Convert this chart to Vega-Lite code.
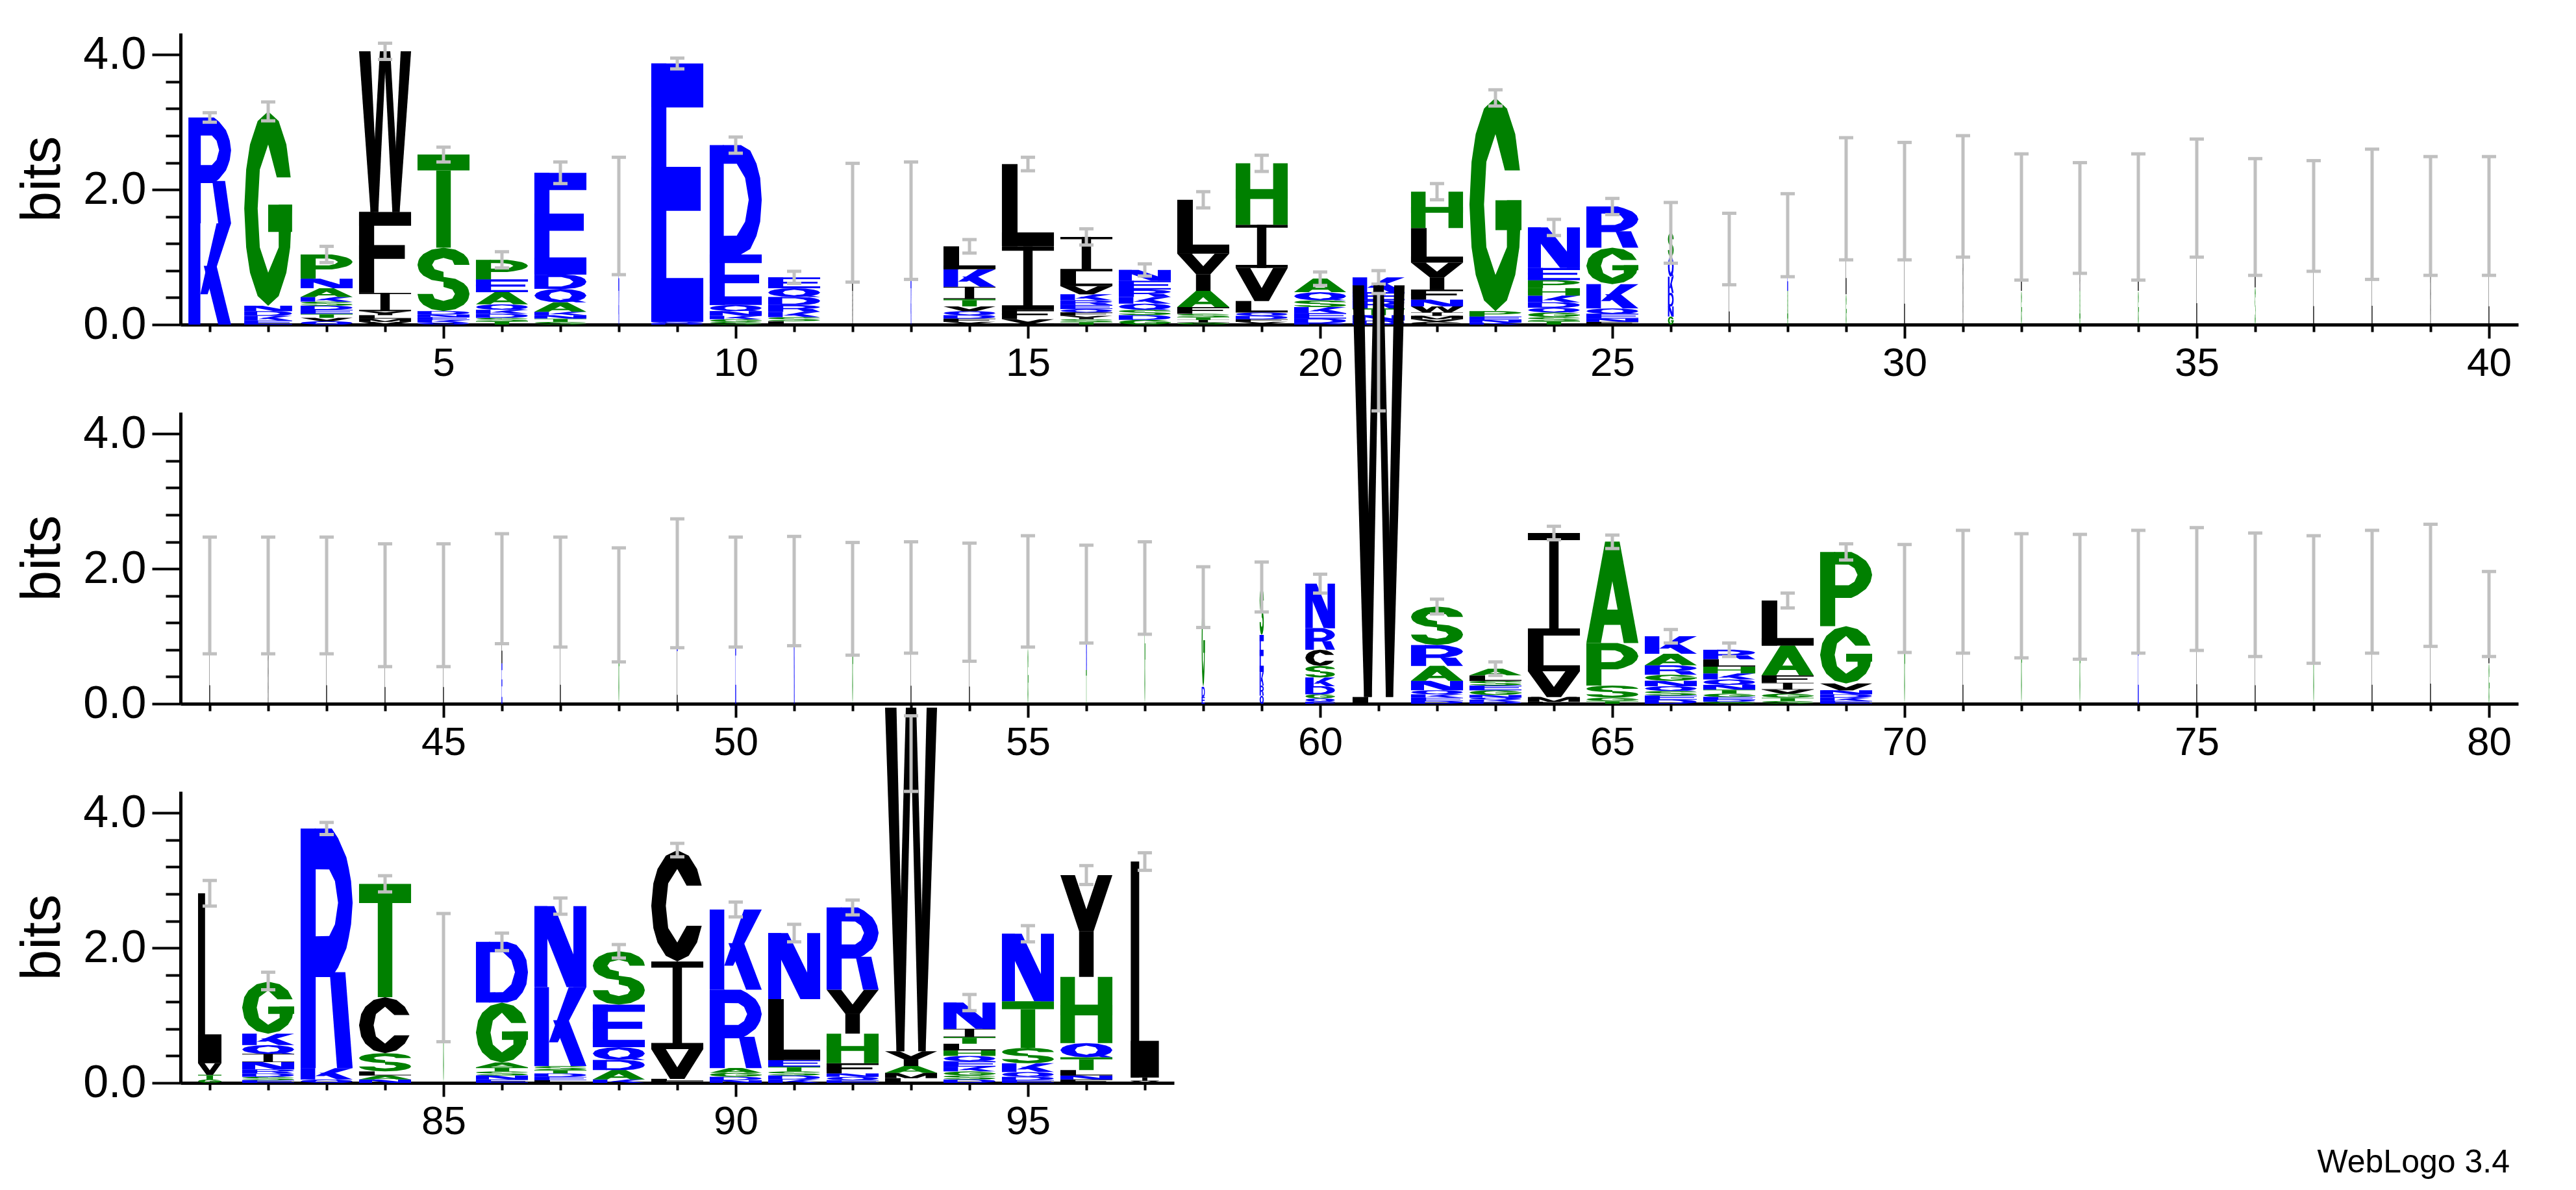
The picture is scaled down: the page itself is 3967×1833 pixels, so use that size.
{
  "$schema": "https://vega.github.io/schema/vega-lite/v6.json",
  "padding": {"left": 23, "top": 49, "right": 5, "bottom": 5},
  "background": "white",
  "config": {
    "view": {"stroke": null},
    "font": "Liberation Sans",
    "axis": {
      "domainColor": "#000000", "domainWidth": 5, "tickColor": "#000000", "tickWidth": 4,
      "labelColor": "#000000", "labelFont": "Liberation Sans", "grid": false,
      "labelOverlap": false, "labelFlush": false, "titleColor": "#000000", "titleFont": "Liberation Sans"
    }
  },
  "title": {"text": "WebLogo 3.4", "orient": "bottom", "anchor": "end", "fontSize": 50, "fontWeight": "normal", "font": "Liberation Sans", "color": "#000000", "offset": 8, "dx": -13},
  "datasets": {
    "cols": [
      {"pos":1,"lo":3.0,"hi":3.14},{"pos":2,"lo":3.02,"hi":3.3},{"pos":3,"lo":0.92,"hi":1.16},{"pos":4,"lo":3.93,"hi":4.17},
      {"pos":5,"lo":2.41,"hi":2.63},{"pos":6,"lo":0.84,"hi":1.08},{"pos":7,"lo":2.09,"hi":2.41},{"pos":8,"lo":0.74,"hi":2.48},
      {"pos":9,"lo":3.79,"hi":3.95},{"pos":10,"lo":2.54,"hi":2.78},{"pos":11,"lo":0.61,"hi":0.79},{"pos":12,"lo":0.63,"hi":2.39},
      {"pos":13,"lo":0.67,"hi":2.41},{"pos":14,"lo":1.06,"hi":1.26},{"pos":15,"lo":2.28,"hi":2.48},{"pos":16,"lo":1.18,"hi":1.42},
      {"pos":17,"lo":0.72,"hi":0.9},{"pos":18,"lo":1.73,"hi":1.97},{"pos":19,"lo":2.27,"hi":2.51},{"pos":20,"lo":0.58,"hi":0.78},
      {"pos":21,"lo":0.6,"hi":0.8},{"pos":22,"lo":1.85,"hi":2.09},{"pos":23,"lo":3.24,"hi":3.48},{"pos":24,"lo":1.32,"hi":1.56},
      {"pos":25,"lo":1.63,"hi":1.87},{"pos":26,"lo":0.91,"hi":1.81},{"pos":27,"lo":0.59,"hi":1.65},{"pos":28,"lo":0.71,"hi":1.94},
      {"pos":29,"lo":0.96,"hi":2.77},{"pos":30,"lo":0.96,"hi":2.7},{"pos":31,"lo":1.0,"hi":2.8},{"pos":32,"lo":0.66,"hi":2.53},
      {"pos":33,"lo":0.76,"hi":2.4},{"pos":34,"lo":0.66,"hi":2.53},{"pos":35,"lo":1.0,"hi":2.75},{"pos":36,"lo":0.73,"hi":2.46},
      {"pos":37,"lo":0.79,"hi":2.43},{"pos":38,"lo":0.67,"hi":2.6},{"pos":39,"lo":0.73,"hi":2.49},{"pos":40,"lo":0.73,"hi":2.49},
      {"pos":41,"lo":0.74,"hi":2.47},{"pos":42,"lo":0.74,"hi":2.47},{"pos":43,"lo":0.74,"hi":2.47},{"pos":44,"lo":0.55,"hi":2.37},
      {"pos":45,"lo":0.55,"hi":2.37},{"pos":46,"lo":0.89,"hi":2.52},{"pos":47,"lo":0.84,"hi":2.47},{"pos":48,"lo":0.62,"hi":2.31},
      {"pos":49,"lo":0.83,"hi":2.74},{"pos":50,"lo":0.84,"hi":2.47},{"pos":51,"lo":0.86,"hi":2.48},{"pos":52,"lo":0.72,"hi":2.39},
      {"pos":53,"lo":0.75,"hi":2.4},{"pos":54,"lo":0.63,"hi":2.38},{"pos":55,"lo":0.84,"hi":2.49},{"pos":56,"lo":0.9,"hi":2.35},
      {"pos":57,"lo":1.03,"hi":2.4},{"pos":58,"lo":1.13,"hi":2.03},{"pos":59,"lo":1.36,"hi":2.1},{"pos":60,"lo":1.64,"hi":1.92},
      {"pos":61,"lo":4.34,"hi":6.08},{"pos":62,"lo":1.33,"hi":1.55},{"pos":63,"lo":0.42,"hi":0.62},{"pos":64,"lo":2.43,"hi":2.63},
      {"pos":65,"lo":2.3,"hi":2.5},{"pos":66,"lo":0.9,"hi":1.1},{"pos":67,"lo":0.7,"hi":0.9},{"pos":68,"lo":1.42,"hi":1.64},
      {"pos":69,"lo":2.13,"hi":2.37},{"pos":70,"lo":0.76,"hi":2.36},{"pos":71,"lo":0.75,"hi":2.57},{"pos":72,"lo":0.68,"hi":2.52},
      {"pos":73,"lo":0.66,"hi":2.51},{"pos":74,"lo":0.75,"hi":2.57},{"pos":75,"lo":0.79,"hi":2.61},{"pos":76,"lo":0.7,"hi":2.53},
      {"pos":77,"lo":0.6,"hi":2.49},{"pos":78,"lo":0.75,"hi":2.57},{"pos":79,"lo":0.85,"hi":2.66},{"pos":80,"lo":0.7,"hi":1.96},
      {"pos":81,"lo":2.62,"hi":3.0},{"pos":82,"lo":1.38,"hi":1.64},{"pos":83,"lo":3.68,"hi":3.86},{"pos":84,"lo":2.83,"hi":3.07},
      {"pos":85,"lo":0.61,"hi":2.51},{"pos":86,"lo":1.96,"hi":2.22},{"pos":87,"lo":2.5,"hi":2.74},{"pos":88,"lo":1.85,"hi":2.05},
      {"pos":89,"lo":3.35,"hi":3.55},{"pos":90,"lo":2.46,"hi":2.68},{"pos":91,"lo":2.09,"hi":2.35},{"pos":92,"lo":2.49,"hi":2.71},
      {"pos":93,"lo":4.32,"hi":5.44},{"pos":94,"lo":1.07,"hi":1.31},{"pos":95,"lo":2.09,"hi":2.33},{"pos":96,"lo":2.94,"hi":3.22},
      {"pos":97,"lo":3.15,"hi":3.41}
    ],
    "letters": [
      {"pos":1,"ch":"K","b":1.5},{"pos":1,"ch":"R","b":1.57},
      {"pos":2,"ch":"E","b":0.06},{"pos":2,"ch":"K","b":0.07},{"pos":2,"ch":"D","b":0.07},{"pos":2,"ch":"N","b":0.08},{"pos":2,"ch":"G","b":2.88},
      {"pos":3,"ch":"Q","b":0.05},{"pos":3,"ch":"V","b":0.05},{"pos":3,"ch":"T","b":0.06},{"pos":3,"ch":"E","b":0.06},{"pos":3,"ch":"D","b":0.06},{"pos":3,"ch":"S","b":0.06},{"pos":3,"ch":"K","b":0.07},{"pos":3,"ch":"A","b":0.13},{"pos":3,"ch":"N","b":0.14},{"pos":3,"ch":"P","b":0.36},
      {"pos":4,"ch":"V","b":0.04},{"pos":4,"ch":"M","b":0.05},{"pos":4,"ch":"L","b":0.05},{"pos":4,"ch":"Y","b":0.06},{"pos":4,"ch":"I","b":0.27},{"pos":4,"ch":"F","b":1.2},{"pos":4,"ch":"W","b":2.38},
      {"pos":5,"ch":"Q","b":0.03},{"pos":5,"ch":"K","b":0.04},{"pos":5,"ch":"E","b":0.04},{"pos":5,"ch":"N","b":0.04},{"pos":5,"ch":"D","b":0.05},{"pos":5,"ch":"S","b":0.94},{"pos":5,"ch":"T","b":1.38},
      {"pos":6,"ch":"T","b":0.05},{"pos":6,"ch":"S","b":0.05},{"pos":6,"ch":"D","b":0.06},{"pos":6,"ch":"K","b":0.06},{"pos":6,"ch":"Q","b":0.08},{"pos":6,"ch":"A","b":0.18},{"pos":6,"ch":"E","b":0.19},{"pos":6,"ch":"P","b":0.29},
      {"pos":7,"ch":"S","b":0.04},{"pos":7,"ch":"T","b":0.05},{"pos":7,"ch":"N","b":0.05},{"pos":7,"ch":"K","b":0.05},{"pos":7,"ch":"A","b":0.14},{"pos":7,"ch":"Q","b":0.2},{"pos":7,"ch":"D","b":0.21},{"pos":7,"ch":"E","b":1.51},
      {"pos":8,"ch":"K","b":0.5},{"pos":8,"ch":"E","b":1.1},
      {"pos":9,"ch":"D","b":0.02},{"pos":9,"ch":"Q","b":0.02},{"pos":9,"ch":"E","b":3.83},
      {"pos":10,"ch":"S","b":0.04},{"pos":10,"ch":"G","b":0.04},{"pos":10,"ch":"K","b":0.05},{"pos":10,"ch":"N","b":0.07},{"pos":10,"ch":"Q","b":0.09},{"pos":10,"ch":"E","b":0.75},{"pos":10,"ch":"D","b":1.62},
      {"pos":11,"ch":"L","b":0.05},{"pos":11,"ch":"S","b":0.06},{"pos":11,"ch":"K","b":0.08},{"pos":11,"ch":"R","b":0.1},{"pos":11,"ch":"D","b":0.12},{"pos":11,"ch":"Q","b":0.13},{"pos":11,"ch":"E","b":0.16},
      {"pos":12,"ch":"V","b":0.5},{"pos":12,"ch":"L","b":1.04},
      {"pos":13,"ch":"K","b":0.54},{"pos":13,"ch":"E","b":1.0},
      {"pos":14,"ch":"Y","b":0.04},{"pos":14,"ch":"F","b":0.05},{"pos":14,"ch":"D","b":0.05},{"pos":14,"ch":"Q","b":0.06},{"pos":14,"ch":"V","b":0.07},{"pos":14,"ch":"T","b":0.11},{"pos":14,"ch":"I","b":0.18},{"pos":14,"ch":"K","b":0.26},{"pos":14,"ch":"L","b":0.34},
      {"pos":15,"ch":"M","b":0.02},{"pos":15,"ch":"V","b":0.06},{"pos":15,"ch":"F","b":0.14},{"pos":15,"ch":"I","b":0.94},{"pos":15,"ch":"L","b":1.22},
      {"pos":16,"ch":"T","b":0.04},{"pos":16,"ch":"S","b":0.04},{"pos":16,"ch":"Y","b":0.05},{"pos":16,"ch":"F","b":0.05},{"pos":16,"ch":"Q","b":0.05},{"pos":16,"ch":"E","b":0.06},{"pos":16,"ch":"R","b":0.07},{"pos":16,"ch":"K","b":0.09},{"pos":16,"ch":"V","b":0.12},{"pos":16,"ch":"L","b":0.22},{"pos":16,"ch":"I","b":0.51},
      {"pos":17,"ch":"G","b":0.07},{"pos":17,"ch":"D","b":0.07},{"pos":17,"ch":"S","b":0.08},{"pos":17,"ch":"Q","b":0.09},{"pos":17,"ch":"K","b":0.1},{"pos":17,"ch":"R","b":0.11},{"pos":17,"ch":"E","b":0.13},{"pos":17,"ch":"N","b":0.16},
      {"pos":18,"ch":"G","b":0.03},{"pos":18,"ch":"I","b":0.04},{"pos":18,"ch":"T","b":0.04},{"pos":18,"ch":"S","b":0.05},{"pos":18,"ch":"F","b":0.1},{"pos":18,"ch":"A","b":0.24},{"pos":18,"ch":"Y","b":0.55},{"pos":18,"ch":"L","b":0.8},
      {"pos":19,"ch":"Y","b":0.04},{"pos":19,"ch":"F","b":0.04},{"pos":19,"ch":"D","b":0.05},{"pos":19,"ch":"Q","b":0.05},{"pos":19,"ch":"L","b":0.17},{"pos":19,"ch":"V","b":0.49},{"pos":19,"ch":"I","b":0.64},{"pos":19,"ch":"H","b":0.91},
      {"pos":20,"ch":"R","b":0.02},{"pos":20,"ch":"D","b":0.07},{"pos":20,"ch":"E","b":0.08},{"pos":20,"ch":"K","b":0.09},{"pos":20,"ch":"S","b":0.1},{"pos":20,"ch":"Q","b":0.12},{"pos":20,"ch":"A","b":0.2},
      {"pos":21,"ch":"D","b":0.06},{"pos":21,"ch":"N","b":0.08},{"pos":21,"ch":"T","b":0.1},{"pos":21,"ch":"R","b":0.12},{"pos":21,"ch":"E","b":0.12},{"pos":21,"ch":"K","b":0.22},
      {"pos":22,"ch":"C","b":0.04},{"pos":22,"ch":"V","b":0.04},{"pos":22,"ch":"M","b":0.05},{"pos":22,"ch":"I","b":0.05},{"pos":22,"ch":"W","b":0.09},{"pos":22,"ch":"N","b":0.1},{"pos":22,"ch":"F","b":0.15},{"pos":22,"ch":"Y","b":0.4},{"pos":22,"ch":"L","b":0.51},{"pos":22,"ch":"H","b":0.54},
      {"pos":23,"ch":"K","b":0.03},{"pos":23,"ch":"N","b":0.04},{"pos":23,"ch":"E","b":0.05},{"pos":23,"ch":"P","b":0.08},{"pos":23,"ch":"G","b":3.16},
      {"pos":24,"ch":"T","b":0.05},{"pos":24,"ch":"S","b":0.06},{"pos":24,"ch":"G","b":0.07},{"pos":24,"ch":"Q","b":0.07},{"pos":24,"ch":"D","b":0.08},{"pos":24,"ch":"K","b":0.1},{"pos":24,"ch":"H","b":0.11},{"pos":24,"ch":"P","b":0.12},{"pos":24,"ch":"E","b":0.18},{"pos":24,"ch":"N","b":0.6},
      {"pos":25,"ch":"F","b":0.04},{"pos":25,"ch":"N","b":0.05},{"pos":25,"ch":"E","b":0.07},{"pos":25,"ch":"Q","b":0.08},{"pos":25,"ch":"K","b":0.36},{"pos":25,"ch":"G","b":0.54},{"pos":25,"ch":"R","b":0.61},
      {"pos":26,"ch":"G","b":0.12},{"pos":26,"ch":"N","b":0.15},{"pos":26,"ch":"D","b":0.2},{"pos":26,"ch":"K","b":0.24},{"pos":26,"ch":"Q","b":0.3},{"pos":26,"ch":"S","b":0.35},
      {"pos":27,"ch":"L","b":1.15},
      {"pos":28,"ch":"A","b":0.5},{"pos":28,"ch":"E","b":0.83},
      {"pos":29,"ch":"G","b":0.45},{"pos":29,"ch":"L","b":1.42},
      {"pos":30,"ch":"L","b":1.83},
      {"pos":31,"ch":"V","b":1.91},
      {"pos":32,"ch":"G","b":0.5},{"pos":32,"ch":"L","b":1.09},
      {"pos":33,"ch":"A","b":0.5},{"pos":33,"ch":"V","b":1.08},
      {"pos":34,"ch":"G","b":0.5},{"pos":34,"ch":"L","b":1.09},
      {"pos":35,"ch":"L","b":1.87},
      {"pos":36,"ch":"S","b":0.55},{"pos":36,"ch":"L","b":1.04},
      {"pos":37,"ch":"L","b":1.61},
      {"pos":38,"ch":"L","b":1.64},
      {"pos":39,"ch":"V","b":1.6},
      {"pos":40,"ch":"L","b":1.6},
      {"pos":41,"ch":"L","b":1.61},
      {"pos":42,"ch":"V","b":1.61},
      {"pos":43,"ch":"L","b":1.61},
      {"pos":44,"ch":"L","b":1.46},
      {"pos":45,"ch":"L","b":1.46},
      {"pos":46,"ch":"E","b":0.6},{"pos":46,"ch":"L","b":1.1},
      {"pos":47,"ch":"L","b":1.66},
      {"pos":48,"ch":"G","b":1.46},
      {"pos":49,"ch":"L","b":0.78},{"pos":49,"ch":"E","b":1.0},
      {"pos":50,"ch":"E","b":1.66},
      {"pos":51,"ch":"N","b":1.67},
      {"pos":52,"ch":"G","b":1.55},
      {"pos":53,"ch":"L","b":1.57},
      {"pos":54,"ch":"L","b":1.5},
      {"pos":55,"ch":"G","b":0.82},{"pos":55,"ch":"K","b":0.85},
      {"pos":56,"ch":"T","b":0.5},{"pos":56,"ch":"N","b":1.12},
      {"pos":57,"ch":"G","b":1.72},
      {"pos":58,"ch":"E","b":0.1},{"pos":58,"ch":"D","b":0.15},{"pos":58,"ch":"G","b":1.33},
      {"pos":59,"ch":"Q","b":0.12},{"pos":59,"ch":"R","b":0.15},{"pos":59,"ch":"K","b":0.2},{"pos":59,"ch":"E","b":0.55},{"pos":59,"ch":"S","b":0.7},
      {"pos":60,"ch":"E","b":0.03},{"pos":60,"ch":"Q","b":0.05},{"pos":60,"ch":"G","b":0.06},{"pos":60,"ch":"D","b":0.12},{"pos":60,"ch":"K","b":0.13},{"pos":60,"ch":"S","b":0.17},{"pos":60,"ch":"C","b":0.24},{"pos":60,"ch":"R","b":0.32},{"pos":60,"ch":"N","b":0.66},
      {"pos":61,"ch":"L","b":0.1},{"pos":61,"ch":"W","b":6.1},
      {"pos":62,"ch":"D","b":0.04},{"pos":62,"ch":"E","b":0.05},{"pos":62,"ch":"K","b":0.05},{"pos":62,"ch":"Q","b":0.06},{"pos":62,"ch":"N","b":0.14},{"pos":62,"ch":"A","b":0.22},{"pos":62,"ch":"R","b":0.31},{"pos":62,"ch":"S","b":0.57},
      {"pos":63,"ch":"D","b":0.03},{"pos":63,"ch":"K","b":0.03},{"pos":63,"ch":"Q","b":0.03},{"pos":63,"ch":"N","b":0.04},{"pos":63,"ch":"G","b":0.07},{"pos":63,"ch":"E","b":0.07},{"pos":63,"ch":"S","b":0.07},{"pos":63,"ch":"L","b":0.08},{"pos":63,"ch":"A","b":0.1},
      {"pos":64,"ch":"F","b":0.03},{"pos":64,"ch":"M","b":0.07},{"pos":64,"ch":"V","b":0.38},{"pos":64,"ch":"L","b":0.53},{"pos":64,"ch":"I","b":1.52},
      {"pos":65,"ch":"T","b":0.04},{"pos":65,"ch":"G","b":0.05},{"pos":65,"ch":"S","b":0.18},{"pos":65,"ch":"P","b":0.63},{"pos":65,"ch":"A","b":1.5},
      {"pos":66,"ch":"D","b":0.06},{"pos":66,"ch":"E","b":0.06},{"pos":66,"ch":"S","b":0.07},{"pos":66,"ch":"Q","b":0.07},{"pos":66,"ch":"N","b":0.08},{"pos":66,"ch":"G","b":0.09},{"pos":66,"ch":"R","b":0.14},{"pos":66,"ch":"A","b":0.17},{"pos":66,"ch":"K","b":0.26},
      {"pos":67,"ch":"S","b":0.03},{"pos":67,"ch":"D","b":0.03},{"pos":67,"ch":"E","b":0.04},{"pos":67,"ch":"G","b":0.05},{"pos":67,"ch":"T","b":0.06},{"pos":67,"ch":"N","b":0.07},{"pos":67,"ch":"Q","b":0.08},{"pos":67,"ch":"K","b":0.09},{"pos":67,"ch":"H","b":0.1},{"pos":67,"ch":"L","b":0.11},{"pos":67,"ch":"R","b":0.14},
      {"pos":68,"ch":"S","b":0.04},{"pos":68,"ch":"T","b":0.05},{"pos":68,"ch":"G","b":0.06},{"pos":68,"ch":"V","b":0.06},{"pos":68,"ch":"I","b":0.1},{"pos":68,"ch":"F","b":0.11},{"pos":68,"ch":"A","b":0.44},{"pos":68,"ch":"L","b":0.67},
      {"pos":69,"ch":"E","b":0.04},{"pos":69,"ch":"K","b":0.05},{"pos":69,"ch":"D","b":0.05},{"pos":69,"ch":"N","b":0.06},{"pos":69,"ch":"V","b":0.1},{"pos":69,"ch":"G","b":0.85},{"pos":69,"ch":"P","b":1.1},
      {"pos":70,"ch":"G","b":1.56},
      {"pos":71,"ch":"L","b":1.66},
      {"pos":72,"ch":"G","b":1.6},
      {"pos":73,"ch":"G","b":1.58},
      {"pos":74,"ch":"E","b":1.66},
      {"pos":75,"ch":"L","b":1.7},
      {"pos":76,"ch":"L","b":1.61},
      {"pos":77,"ch":"G","b":1.54},
      {"pos":78,"ch":"L","b":1.66},
      {"pos":79,"ch":"L","b":1.76},
      {"pos":80,"ch":"G","b":0.6},{"pos":80,"ch":"L","b":0.73},
      {"pos":81,"ch":"G","b":0.05},{"pos":81,"ch":"T","b":0.07},{"pos":81,"ch":"V","b":0.17},{"pos":81,"ch":"L","b":2.52},
      {"pos":82,"ch":"E","b":0.04},{"pos":82,"ch":"S","b":0.05},{"pos":82,"ch":"D","b":0.05},{"pos":82,"ch":"R","b":0.06},{"pos":82,"ch":"N","b":0.11},{"pos":82,"ch":"I","b":0.12},{"pos":82,"ch":"Q","b":0.13},{"pos":82,"ch":"K","b":0.17},{"pos":82,"ch":"G","b":0.77},
      {"pos":83,"ch":"Q","b":0.05},{"pos":83,"ch":"K","b":0.17},{"pos":83,"ch":"R","b":3.55},
      {"pos":84,"ch":"N","b":0.05},{"pos":84,"ch":"A","b":0.06},{"pos":84,"ch":"L","b":0.06},{"pos":84,"ch":"S","b":0.27},{"pos":84,"ch":"C","b":0.83},{"pos":84,"ch":"T","b":1.68},
      {"pos":85,"ch":"G","b":1.56},
      {"pos":86,"ch":"E","b":0.05},{"pos":86,"ch":"N","b":0.06},{"pos":86,"ch":"S","b":0.06},{"pos":86,"ch":"T","b":0.06},{"pos":86,"ch":"A","b":0.07},{"pos":86,"ch":"G","b":0.89},{"pos":86,"ch":"D","b":0.9},
      {"pos":87,"ch":"L","b":0.04},{"pos":87,"ch":"E","b":0.05},{"pos":87,"ch":"D","b":0.05},{"pos":87,"ch":"T","b":0.05},{"pos":87,"ch":"S","b":0.06},{"pos":87,"ch":"K","b":1.17},{"pos":87,"ch":"N","b":1.2},
      {"pos":88,"ch":"K","b":0.05},{"pos":88,"ch":"A","b":0.14},{"pos":88,"ch":"D","b":0.15},{"pos":88,"ch":"Q","b":0.19},{"pos":88,"ch":"E","b":0.63},{"pos":88,"ch":"S","b":0.79},
      {"pos":89,"ch":"F","b":0.03},{"pos":89,"ch":"L","b":0.03},{"pos":89,"ch":"V","b":0.44},{"pos":89,"ch":"I","b":1.3},{"pos":89,"ch":"C","b":1.65},
      {"pos":90,"ch":"N","b":0.04},{"pos":90,"ch":"D","b":0.05},{"pos":90,"ch":"G","b":0.06},{"pos":90,"ch":"A","b":0.07},{"pos":90,"ch":"R","b":1.16},{"pos":90,"ch":"K","b":1.19},
      {"pos":91,"ch":"K","b":0.05},{"pos":91,"ch":"D","b":0.06},{"pos":91,"ch":"S","b":0.06},{"pos":91,"ch":"T","b":0.07},{"pos":91,"ch":"E","b":0.1},{"pos":91,"ch":"L","b":0.9},{"pos":91,"ch":"N","b":0.98},
      {"pos":92,"ch":"E","b":0.04},{"pos":92,"ch":"Q","b":0.05},{"pos":92,"ch":"N","b":0.05},{"pos":92,"ch":"F","b":0.15},{"pos":92,"ch":"H","b":0.44},{"pos":92,"ch":"Y","b":0.65},{"pos":92,"ch":"R","b":1.22},
      {"pos":93,"ch":"L","b":0.07},{"pos":93,"ch":"M","b":0.08},{"pos":93,"ch":"A","b":0.1},{"pos":93,"ch":"Y","b":0.22},{"pos":93,"ch":"W","b":5.09},
      {"pos":94,"ch":"D","b":0.05},{"pos":94,"ch":"S","b":0.06},{"pos":94,"ch":"G","b":0.06},{"pos":94,"ch":"K","b":0.07},{"pos":94,"ch":"E","b":0.08},{"pos":94,"ch":"Q","b":0.08},{"pos":94,"ch":"H","b":0.08},{"pos":94,"ch":"L","b":0.1},{"pos":94,"ch":"T","b":0.1},{"pos":94,"ch":"I","b":0.12},{"pos":94,"ch":"N","b":0.39},
      {"pos":95,"ch":"E","b":0.04},{"pos":95,"ch":"D","b":0.05},{"pos":95,"ch":"Q","b":0.07},{"pos":95,"ch":"K","b":0.13},{"pos":95,"ch":"S","b":0.23},{"pos":95,"ch":"T","b":0.69},{"pos":95,"ch":"N","b":1.0},
      {"pos":96,"ch":"F","b":0.05},{"pos":96,"ch":"N","b":0.06},{"pos":96,"ch":"L","b":0.08},{"pos":96,"ch":"T","b":0.19},{"pos":96,"ch":"Q","b":0.21},{"pos":96,"ch":"H","b":0.98},{"pos":96,"ch":"Y","b":1.51},
      {"pos":97,"ch":"V","b":0.03},{"pos":97,"ch":"I","b":0.05},{"pos":97,"ch":"L","b":3.2}
    ]
  },
  "data": {"name": "letters"},
  "transform": [
    {"lookup": "pos", "from": {"data": {"values": [
      {"pos":1,"w":0.82},{"pos":2,"w":0.92},{"pos":8,"w":0.015},{"pos":12,"w":0.015},{"pos":13,"w":0.015},{"pos":26,"w":0.11},
      {"pos":27,"w":0.015},{"pos":28,"w":0.015},{"pos":29,"w":0.015},{"pos":30,"w":0.015},{"pos":31,"w":0.015},{"pos":32,"w":0.015},
      {"pos":33,"w":0.015},{"pos":34,"w":0.015},{"pos":35,"w":0.015},{"pos":36,"w":0.015},{"pos":37,"w":0.015},{"pos":38,"w":0.015},
      {"pos":39,"w":0.015},{"pos":40,"w":0.015},{"pos":41,"w":0.015},{"pos":42,"w":0.015},{"pos":43,"w":0.015},{"pos":44,"w":0.015},
      {"pos":45,"w":0.015},{"pos":46,"w":0.015},{"pos":47,"w":0.015},{"pos":48,"w":0.015},{"pos":49,"w":0.015},{"pos":50,"w":0.015},
      {"pos":51,"w":0.015},{"pos":52,"w":0.015},{"pos":53,"w":0.015},{"pos":54,"w":0.015},{"pos":55,"w":0.015},{"pos":56,"w":0.015},
      {"pos":57,"w":0.015},{"pos":58,"w":0.06},{"pos":59,"w":0.08},{"pos":60,"w":0.57},{"pos":70,"w":0.015},{"pos":71,"w":0.015},
      {"pos":72,"w":0.015},{"pos":73,"w":0.015},{"pos":74,"w":0.015},{"pos":75,"w":0.015},{"pos":76,"w":0.015},{"pos":77,"w":0.015},
      {"pos":78,"w":0.015},{"pos":79,"w":0.015},{"pos":80,"w":0.015},{"pos":81,"w":0.45},{"pos":85,"w":0.015},{"pos":97,"w":0.54}
    ]}, "key": "pos", "fields": ["w"]}, "default": 1},
    {"stack": "b", "groupby": ["pos"], "sort": [{"field": "b", "order": "ascending"}], "as": ["y0", "y1"]},
    {"lookup": "ch", "from": {"data": {"values": [
      {"ch":"A","p":[1,1,2,2,3,3],"v":[0,1,0,1,0.18,0.33],"lo":[0,0.36,0.72,0.36,0.12,0.16],"hi":[0.28,0.64,1,0.64,0.88,0.84]},
      {"ch":"C","p":[1,1,1,1,1,1,1,1,1,2,2,2,2,3,3,3,3],"v":[0,0.05,0.17,0.3,0.5,0.7,0.83,0.95,1,0,0.05,0.17,0.32,0.68,0.83,0.95,1],"lo":[0.5,0.28,0.12,0.04,0,0.04,0.12,0.28,0.5,0.5,0.5,0.5,0.68,0.68,0.5,0.5,0.5],"hi":[0.5,0.5,0.5,0.325,0.28,0.325,0.5,0.5,0.5,0.5,0.72,0.88,0.97,0.97,0.88,0.72,0.5]},
      {"ch":"D","p":[1,1,2,2,2,2,2,2,2,2,2,2,2],"v":[0,1,0,0.05,0.17,0.171,0.3,0.5,0.7,0.829,0.83,0.95,1],"lo":[0,0,0.25,0.25,0.25,0.52,0.68,0.75,0.68,0.52,0.25,0.25,0.25],"hi":[0.27,0.27,0.6,0.78,0.9,0.9,0.97,1,0.97,0.9,0.9,0.78,0.6]},
      {"ch":"E","p":[1,1,2,2,3,3,4,4],"v":[0,1,0,0.17,0.43,0.6,0.83,1],"lo":[0,0,0,0,0,0,0,0],"hi":[0.29,0.29,1,1,0.95,0.95,1,1]},
      {"ch":"F","p":[1,1,2,2,3,3],"v":[0,1,0.42,0.59,0.83,1],"lo":[0,0,0,0,0,0],"hi":[0.29,0.29,0.88,0.88,1,1]},
      {"ch":"G","p":[1,1,1,1,1,1,1,1,1,2,2,2,2,2,3,3,3,3,4,4],"v":[0,0.05,0.17,0.3,0.5,0.7,0.83,0.95,1,0,0.05,0.17,0.3,0.52,0.66,0.83,0.95,1,0.38,0.52],"lo":[0.5,0.28,0.12,0.04,0,0.04,0.12,0.28,0.5,0.5,0.5,0.5,0.72,0.72,0.68,0.5,0.5,0.5,0.5,0.5],"hi":[0.5,0.5,0.5,0.325,0.28,0.325,0.5,0.5,0.5,0.5,0.72,0.88,0.96,1,0.97,0.88,0.72,0.5,1,1]},
      {"ch":"H","p":[1,1,2,2,3,3],"v":[0,1,0,1,0.42,0.58],"lo":[0,0,0.72,0.72,0,0],"hi":[0.28,0.28,1,1,1,1]},
      {"ch":"I","p":[1,1,2,2,3,3],"v":[0,0.07,0.93,1,0,1],"lo":[0,0,0,0,0.41,0.41],"hi":[1,1,1,1,0.59,0.59]},
      {"ch":"K","p":[1,1,2,2,3,3],"v":[0,1,0.3,1,0,0.58],"lo":[0,0,0.28,0.66,0.7,0.36],"hi":[0.28,0.28,0.45,1,1,0.66]},
      {"ch":"L","p":[1,1,2,2],"v":[0,1,0,0.17],"lo":[0,0,0,0],"hi":[0.3,0.3,1,1]},
      {"ch":"M","p":[1,1,2,2,3,3,4,4],"v":[0,1,0,1,0,1,0,1],"lo":[0,0,0.78,0.78,0.38,0.05,0.44,0.75],"hi":[0.22,0.22,1,1,0.56,0.25,0.62,0.95]},
      {"ch":"N","p":[1,1,2,2,3,3],"v":[0,1,0,1,0,1],"lo":[0,0,0.75,0.75,0.62,0],"hi":[0.25,0.25,1,1,1,0.38]},
      {"ch":"P","p":[1,1,2,2,2,2,2,2,2,2,2,2,2,2,2],"v":[0,1,0.38,0.42,0.5,0.55,0.551,0.6,0.69,0.78,0.829,0.83,0.88,0.96,1],"lo":[0,0,0.27,0.27,0.27,0.27,0.55,0.66,0.72,0.66,0.55,0.27,0.27,0.27,0.27],"hi":[0.29,0.29,0.6,0.72,0.88,0.93,0.93,0.97,1,0.97,0.93,0.93,0.88,0.72,0.6]},
      {"ch":"Q","p":[1,1,1,1,1,1,1,1,1,2,2,2,2,2,2,2,2,2,3,3],"v":[0,0.05,0.17,0.3,0.5,0.7,0.83,0.95,1,0,0.05,0.17,0.3,0.5,0.7,0.83,0.95,1,0,0.25],"lo":[0.5,0.28,0.12,0.04,0,0.04,0.12,0.28,0.5,0.5,0.5,0.5,0.675,0.72,0.675,0.5,0.5,0.5,0.8,0.52],"hi":[0.5,0.5,0.5,0.325,0.28,0.325,0.5,0.5,0.5,0.5,0.72,0.88,0.96,1,0.96,0.88,0.72,0.5,1,0.74]},
      {"ch":"R","p":[1,1,2,2,2,2,2,2,2,2,2,2,2,2,2,3,3],"v":[0,1,0.38,0.42,0.5,0.55,0.551,0.6,0.69,0.78,0.829,0.83,0.88,0.96,1,0,0.4],"lo":[0,0,0.27,0.27,0.27,0.27,0.55,0.66,0.72,0.66,0.55,0.27,0.27,0.27,0.27,0.7,0.56],"hi":[0.29,0.29,0.6,0.72,0.88,0.93,0.93,0.97,1,0.97,0.93,0.93,0.88,0.72,0.6,1,0.86]},
      {"ch":"S","p":[1,1,1,1,1,1,1,1,1,1,1,2,2,2,2,2,2,3,3,3,3,3,3,3,3,3,3,3,4,4,4,4,4,4],"v":[0,0.03,0.1,0.16,0.2,0.27,0.34,0.38,0.44,0.51,0.54,0,0.03,0.1,0.16,0.2,0.27,0.46,0.49,0.56,0.62,0.66,0.73,0.8,0.84,0.9,0.97,1,0.73,0.8,0.84,0.9,0.97,1],"lo":[0.5,0.5,0.5,0.5,0.67,0.72,0.67,0.5,0.5,0.5,0.5,0.5,0.271,0.112,0.043,0.02,0,0.5,0.271,0.112,0.043,0.02,0,0.02,0.043,0.112,0.271,0.5,0.71,0.67,0.5,0.5,0.5,0.5],"hi":[0.5,0.729,0.888,0.957,0.98,1,0.98,0.957,0.888,0.729,0.5,0.5,0.5,0.5,0.5,0.33,0.29,0.5,0.5,0.5,0.5,0.33,0.28,0.33,0.5,0.5,0.5,0.5,1,0.98,0.957,0.888,0.729,0.5]},
      {"ch":"T","p":[1,1,2,2],"v":[0.83,1,0,0.83],"lo":[0,0,0.36,0.36],"hi":[1,1,0.64,0.64]},
      {"ch":"V","p":[1,1,2,2],"v":[0,1,0,1],"lo":[0.36,0,0.36,0.72],"hi":[0.64,0.28,0.64,1]},
      {"ch":"W","p":[1,1,2,2,3,3,4,4],"v":[0,1,0,1,0,1,0,1],"lo":[0.22,0,0.22,0.4,0.64,0.48,0.64,0.8],"hi":[0.37,0.22,0.37,0.52,0.78,0.6,0.78,1]},
      {"ch":"Y","p":[1,1,2,2,3,3],"v":[0.45,1,0.45,1,0,0.45],"lo":[0.36,0,0.36,0.72,0.36,0.36],"hi":[0.64,0.28,0.64,1,0.64,0.64]}
    ]}, "key": "ch", "fields": ["p", "v", "lo", "hi"]}},
    {"flatten": ["p", "v", "lo", "hi"]},
    {"calculate": "datum.y0 + datum.v * (datum.y1 - datum.y0)", "as": "gy"},
    {"calculate": "datum.pos + (datum.lo - 0.5) * 0.89 * datum.w", "as": "gx"},
    {"calculate": "datum.pos + (datum.hi - 0.5) * 0.89 * datum.w", "as": "gx2"}
  ],
  "spacing": 135,
  "bounds": "flush",
  "resolve": {"scale": {"x": "independent", "y": "independent"}},
  "vconcat": [
    {
      "width": 3600, "height": 449,
      "layer": [
        {
          "transform": [{"filter": "datum.pos >= 1 && datum.pos <= 40"}],
          "mark": {"type": "area", "orient": "horizontal", "opacity": 1},
          "encoding": {
            "y": {"field": "gy", "type": "quantitative", "scale": {"domain": [0, 4.32], "nice": false},
              "axis": {"values": [0,0.2,0.4,0.6,0.8,1,1.2,1.4,1.6,1.8,2,2.2,2.4,2.6,2.8,3,3.2,3.4,3.6,3.8,4,4.2],
                "labelExpr": "abs(datum.value - round(datum.value)) < 0.01 ? format(datum.value, '.1f') : ''",
                "tickSize": {"condition": {"test": "abs(datum.value - round(datum.value)) < 0.01", "value": 44}, "value": 23},
                "labelFontSize": 70, "labelPadding": 9, "title": "bits", "titleFontSize": 85, "titleFontWeight": "normal", "titlePadding": 18}},
            "x": {"field": "gx", "type": "quantitative", "stack": null, "scale": {"domain": [0.5, 40.5], "nice": false, "zero": false},
              "axis": {"values": [1,2,3,4,5,6,7,8,9,10,11,12,13,14,15,16,17,18,19,20,21,22,23,24,25,26,27,28,29,30,31,32,33,34,35,36,37,38,39,40],
                "labelExpr": "datum.value % 5 === 0 ? format(datum.value, 'd') : ''",
                "tickSize": {"condition": {"test": "datum.value % 5 === 0", "value": 21}, "value": 11},
                "labelFontSize": 62, "labelPadding": 8, "title": null}},
            "x2": {"field": "gx2"},
            "detail": [{"field": "pos", "type": "nominal"}, {"field": "ch", "type": "nominal"}, {"field": "p", "type": "nominal"}],
            "color": {"field": "ch", "type": "nominal", "legend": null,
              "scale": {"domain": ["A","C","D","E","F","G","H","I","K","L","M","N","P","Q","R","S","T","V","W","Y"],
                "range": ["#008000","#000000","#0000ff","#0000ff","#000000","#008000","#008000","#000000","#0000ff","#000000","#000000","#0000ff","#008000","#0000ff","#0000ff","#008000","#008000","#000000","#000000","#000000"]}}
          }
        },
        {
          "data": {"name": "cols"},
          "transform": [{"filter": "datum.pos >= 1 && datum.pos <= 40"}],
          "mark": {"type": "rule", "color": "#c0c0c0", "strokeWidth": 5, "opacity": 1},
          "encoding": {"x": {"field": "pos", "type": "quantitative"}, "y": {"field": "lo", "type": "quantitative"}, "y2": {"field": "hi"}}
        },
        {
          "data": {"name": "cols"},
          "transform": [{"filter": "datum.pos >= 1 && datum.pos <= 40"}],
          "mark": {"type": "tick", "orient": "horizontal", "color": "#c0c0c0", "size": 22, "thickness": 5, "opacity": 1},
          "encoding": {"x": {"field": "pos", "type": "quantitative"}, "y": {"field": "lo", "type": "quantitative"}}
        },
        {
          "data": {"name": "cols"},
          "transform": [{"filter": "datum.pos >= 1 && datum.pos <= 40"}],
          "mark": {"type": "tick", "orient": "horizontal", "color": "#c0c0c0", "size": 22, "thickness": 5, "opacity": 1},
          "encoding": {"x": {"field": "pos", "type": "quantitative"}, "y": {"field": "hi", "type": "quantitative"}}
        }
      ]
    },
    {
      "width": 3600, "height": 449,
      "layer": [
        {
          "transform": [{"filter": "datum.pos >= 41 && datum.pos <= 80"}],
          "mark": {"type": "area", "orient": "horizontal", "opacity": 1},
          "encoding": {
            "y": {"field": "gy", "type": "quantitative", "scale": {"domain": [0, 4.32], "nice": false},
              "axis": {"values": [0,0.2,0.4,0.6,0.8,1,1.2,1.4,1.6,1.8,2,2.2,2.4,2.6,2.8,3,3.2,3.4,3.6,3.8,4,4.2],
                "labelExpr": "abs(datum.value - round(datum.value)) < 0.01 ? format(datum.value, '.1f') : ''",
                "tickSize": {"condition": {"test": "abs(datum.value - round(datum.value)) < 0.01", "value": 44}, "value": 23},
                "labelFontSize": 70, "labelPadding": 9, "title": "bits", "titleFontSize": 85, "titleFontWeight": "normal", "titlePadding": 18}},
            "x": {"field": "gx", "type": "quantitative", "stack": null, "scale": {"domain": [40.5, 80.5], "nice": false, "zero": false},
              "axis": {"values": [41,42,43,44,45,46,47,48,49,50,51,52,53,54,55,56,57,58,59,60,61,62,63,64,65,66,67,68,69,70,71,72,73,74,75,76,77,78,79,80],
                "labelExpr": "datum.value % 5 === 0 ? format(datum.value, 'd') : ''",
                "tickSize": {"condition": {"test": "datum.value % 5 === 0", "value": 21}, "value": 11},
                "labelFontSize": 62, "labelPadding": 8, "title": null}},
            "x2": {"field": "gx2"},
            "detail": [{"field": "pos", "type": "nominal"}, {"field": "ch", "type": "nominal"}, {"field": "p", "type": "nominal"}],
            "color": {"field": "ch", "type": "nominal", "legend": null}
          }
        },
        {
          "data": {"name": "cols"},
          "transform": [{"filter": "datum.pos >= 41 && datum.pos <= 80"}],
          "mark": {"type": "rule", "color": "#c0c0c0", "strokeWidth": 5, "opacity": 1},
          "encoding": {"x": {"field": "pos", "type": "quantitative"}, "y": {"field": "lo", "type": "quantitative"}, "y2": {"field": "hi"}}
        },
        {
          "data": {"name": "cols"},
          "transform": [{"filter": "datum.pos >= 41 && datum.pos <= 80"}],
          "mark": {"type": "tick", "orient": "horizontal", "color": "#c0c0c0", "size": 22, "thickness": 5, "opacity": 1},
          "encoding": {"x": {"field": "pos", "type": "quantitative"}, "y": {"field": "lo", "type": "quantitative"}}
        },
        {
          "data": {"name": "cols"},
          "transform": [{"filter": "datum.pos >= 41 && datum.pos <= 80"}],
          "mark": {"type": "tick", "orient": "horizontal", "color": "#c0c0c0", "size": 22, "thickness": 5, "opacity": 1},
          "encoding": {"x": {"field": "pos", "type": "quantitative"}, "y": {"field": "hi", "type": "quantitative"}}
        }
      ]
    },
    {
      "width": 1530, "height": 449,
      "layer": [
        {
          "transform": [{"filter": "datum.pos >= 81 && datum.pos <= 97"}],
          "mark": {"type": "area", "orient": "horizontal", "opacity": 1},
          "encoding": {
            "y": {"field": "gy", "type": "quantitative", "scale": {"domain": [0, 4.32], "nice": false},
              "axis": {"values": [0,0.2,0.4,0.6,0.8,1,1.2,1.4,1.6,1.8,2,2.2,2.4,2.6,2.8,3,3.2,3.4,3.6,3.8,4,4.2],
                "labelExpr": "abs(datum.value - round(datum.value)) < 0.01 ? format(datum.value, '.1f') : ''",
                "tickSize": {"condition": {"test": "abs(datum.value - round(datum.value)) < 0.01", "value": 44}, "value": 23},
                "labelFontSize": 70, "labelPadding": 9, "title": "bits", "titleFontSize": 85, "titleFontWeight": "normal", "titlePadding": 18}},
            "x": {"field": "gx", "type": "quantitative", "stack": null, "scale": {"domain": [80.5, 97.5], "nice": false, "zero": false},
              "axis": {"values": [81,82,83,84,85,86,87,88,89,90,91,92,93,94,95,96,97],
                "labelExpr": "datum.value % 5 === 0 ? format(datum.value, 'd') : ''",
                "tickSize": {"condition": {"test": "datum.value % 5 === 0", "value": 21}, "value": 11},
                "labelFontSize": 62, "labelPadding": 8, "title": null}},
            "x2": {"field": "gx2"},
            "detail": [{"field": "pos", "type": "nominal"}, {"field": "ch", "type": "nominal"}, {"field": "p", "type": "nominal"}],
            "color": {"field": "ch", "type": "nominal", "legend": null}
          }
        },
        {
          "data": {"name": "cols"},
          "transform": [{"filter": "datum.pos >= 81 && datum.pos <= 97"}],
          "mark": {"type": "rule", "color": "#c0c0c0", "strokeWidth": 5, "opacity": 1},
          "encoding": {"x": {"field": "pos", "type": "quantitative"}, "y": {"field": "lo", "type": "quantitative"}, "y2": {"field": "hi"}}
        },
        {
          "data": {"name": "cols"},
          "transform": [{"filter": "datum.pos >= 81 && datum.pos <= 97"}],
          "mark": {"type": "tick", "orient": "horizontal", "color": "#c0c0c0", "size": 22, "thickness": 5, "opacity": 1},
          "encoding": {"x": {"field": "pos", "type": "quantitative"}, "y": {"field": "lo", "type": "quantitative"}}
        },
        {
          "data": {"name": "cols"},
          "transform": [{"filter": "datum.pos >= 81 && datum.pos <= 97"}],
          "mark": {"type": "tick", "orient": "horizontal", "color": "#c0c0c0", "size": 22, "thickness": 5, "opacity": 1},
          "encoding": {"x": {"field": "pos", "type": "quantitative"}, "y": {"field": "hi", "type": "quantitative"}}
        }
      ]
    }
  ]
}
